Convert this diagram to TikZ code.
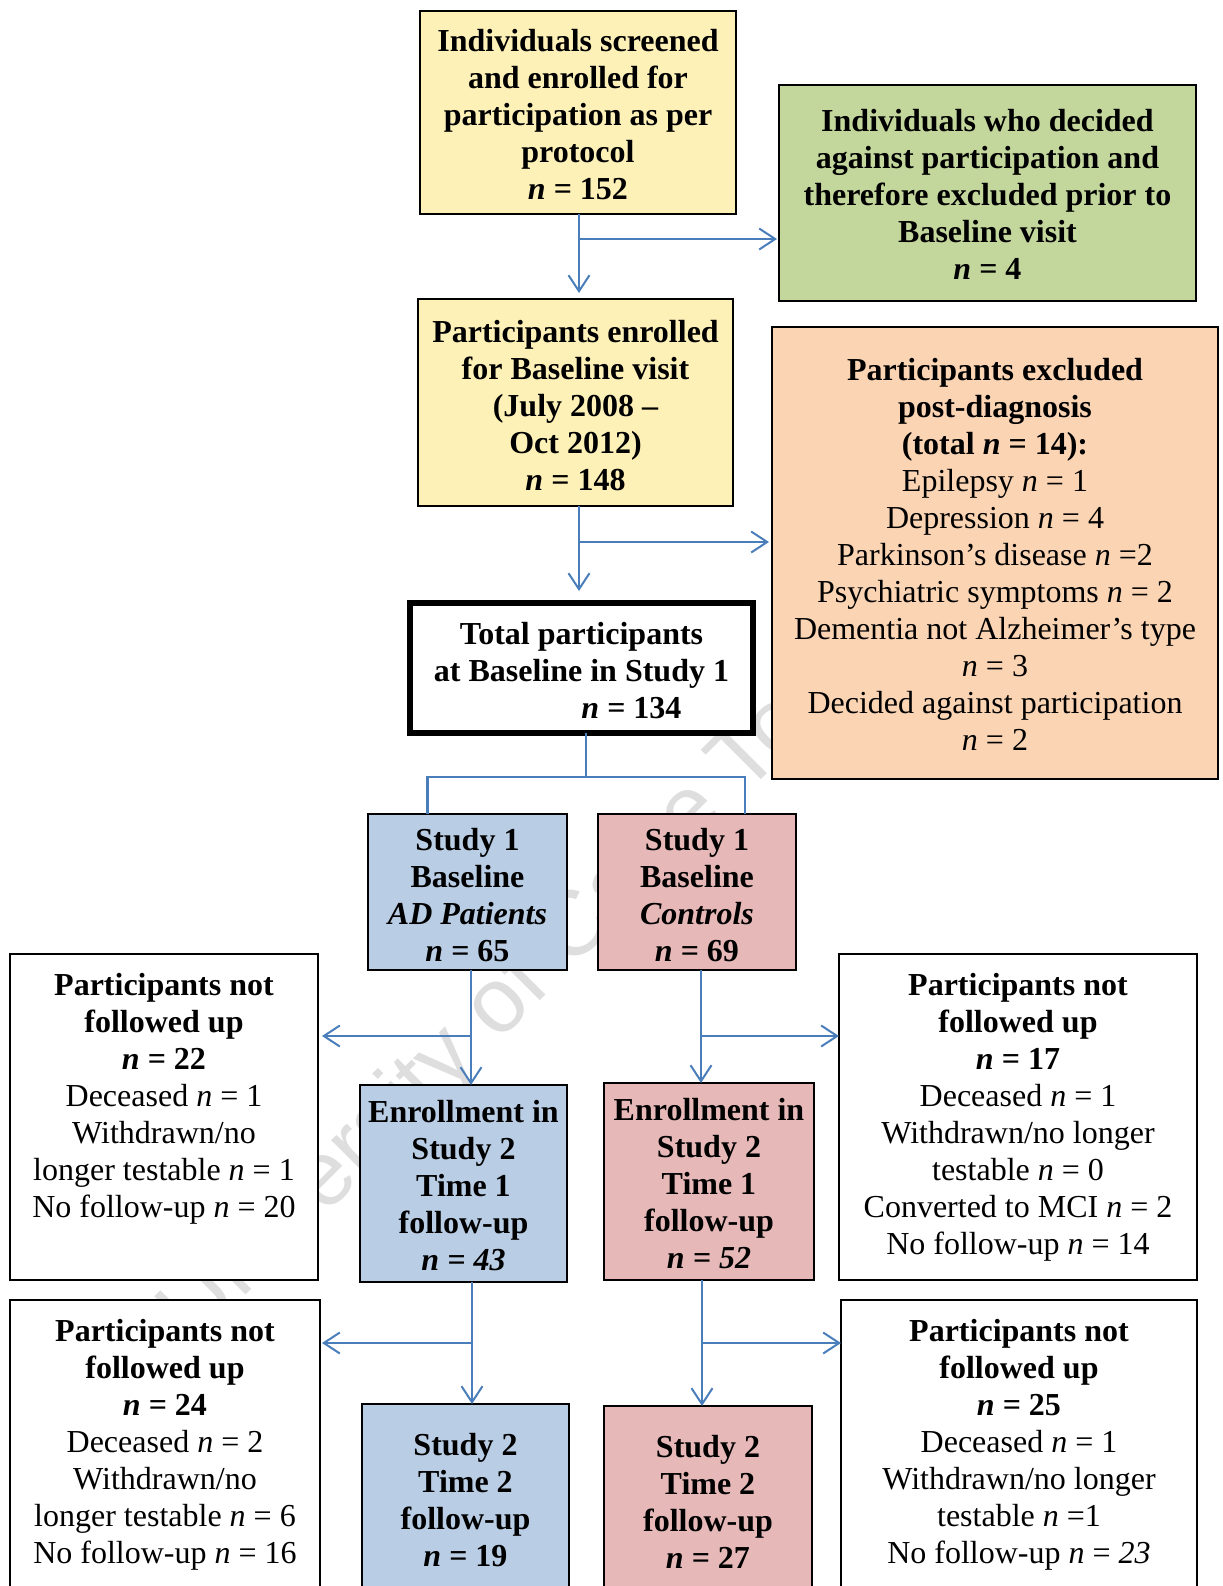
\documentclass[tikz,border=0pt]{standalone}
\usepackage{fontspec}
\setmainfont{Liberation Serif}
\newfontfamily\markfont{Liberation Sans}
\usepackage{tikz}
\usetikzlibrary{arrows.meta,positioning,calc,fit}
\definecolor{paleyellow}{HTML}{FDF1B8}
\definecolor{palegreen}{HTML}{C3D69B}
\definecolor{paleorange}{HTML}{FBD4B4}
\definecolor{paleblue}{HTML}{B9CDE5}
\definecolor{palered}{HTML}{E6B9B8}
\definecolor{linkblue}{HTML}{4A7EBB}
\newcommand\nv{\textit{n}}
\tikzset{
    stagebox/.style={draw=black,line width=0.9pt,fill=white,inner sep=0pt,outer sep=0pt},
    keybox/.style={stagebox,line width=2.8pt},
    boxtext/.style={inner sep=0pt,align=center,anchor=north,
      font={\fontsize{16pt}{18.5pt}\selectfont}},
    boldtext/.style={boxtext,font={\fontsize{16pt}{18.5pt}\selectfont\bfseries}},
    flowarrow/.style={-{Straight Barb[length=8pt,width=10.5pt]},draw=linkblue,
      line width=1pt},
    splitline/.style={draw=linkblue,line width=1.3pt}
}

\begin{document}
\begin{tikzpicture}[x=0.5pt,y=-0.5pt]
  \useasboundingbox (0,0) rectangle (1222,1586);
  \clip (0,0) rectangle (1222,1586);
  % watermark
  \node[rotate=45,anchor=base west,text=black!13,
    font={\markfont\fontsize{46pt}{46pt}\selectfont}] (mark) at (190,1351) {University of Cape Town};
  % boxes
  \node[stagebox,fill=paleyellow,fit={(420,11) (736,214)}] (screen) {};
  \node[stagebox,fill=palegreen,fit={(779,85) (1196,301)}] (decl) {};
  \node[stagebox,fill=paleyellow,fit={(418,299) (733,506)}] (enrol) {};
  \node[stagebox,fill=paleorange,fit={(772,327) (1218,779)}] (excl) {};
  \node[keybox,fit={(410,603) (753,733)}] (total) {};
  \node[stagebox,fill=paleblue,fit={(368,814) (567,970)}] (ad) {};
  \node[stagebox,fill=palered,fit={(598,814) (796,970)}] (ctl) {};
  \node[stagebox,fill=paleblue,fit={(360,1085) (567,1282)}] (ena) {};
  \node[stagebox,fill=palered,fit={(604,1083) (814,1280)}] (enb) {};
  \node[stagebox,fill=paleblue,fit={(362,1404) (569,1600)}] (ta) {};
  \node[stagebox,fill=palered,fit={(604,1406) (812,1600)}] (tb) {};
  \node[stagebox,fit={(10,954) (318,1280)}] (nfa) {};
  \node[stagebox,fit={(839,954) (1197,1280)}] (nfb) {};
  \node[stagebox,fit={(10,1300) (320,1600)}] (nfc) {};
  \node[stagebox,fit={(841,1300) (1197,1600)}] (nfd) {};
  % texts
  \node[boldtext] (screenT) at ([yshift=-9.15pt]screen.north)
    {Individuals screened\\and enrolled for\\participation as per\\protocol\\\nv{} = 152};
  \node[boldtext] (declT) at ([yshift=-12.1pt]decl.north)
    {Individuals who decided\\against participation and\\therefore excluded prior to\\Baseline visit\\\nv{} = 4};
  \node[boldtext] (enrolT) at ([yshift=-10.3pt]enrol.north)
    {Participants enrolled\\for Baseline visit\\(July 2008 –\\Oct 2012)\\\nv{} = 148};
  \node[boxtext] (exclT) at ([yshift=-15.5pt]excl.north)
    {\textbf{Participants excluded}\\\textbf{post-diagnosis}\\\textbf{(total \nv{} = 14):}\\Epilepsy \nv{} = 1\\Depression \nv{} = 4\\Parkinson’s disease \nv{} =2\\Psychiatric symptoms \nv{} = 2\\Dementia not Alzheimer’s type\\\nv{} = 3\\Decided against participation\\\nv{} = 2};
  \node[boldtext] (totalT) at ([yshift=-9.55pt]total.north)
    {Total participants\\at Baseline in Study 1\\\hspace*{50pt}\nv{} = 134};
  \node[boldtext] (adT) at ([yshift=-6.7pt]ad.north)
    {Study 1\\Baseline\\\textit{AD Patients}\\\nv{} = 65};
  \node[boldtext] (ctlT) at ([yshift=-6.7pt]ctl.north)
    {Study 1\\Baseline\\\textit{Controls}\\\nv{} = 69};
  \node[boldtext] (enaT) at ([yshift=-7.25pt]ena.north)
    {Enrollment in\\Study 2\\Time 1\\follow-up\\\textit{n = 43}};
  \node[boldtext] (enbT) at ([yshift=-7.25pt]enb.north)
    {Enrollment in\\Study 2\\Time 1\\follow-up\\\textit{n = 52}};
  \node[boldtext] (taT) at ([yshift=-14.6pt]ta.north) {Study 2\\Time 2\\follow-up\\\nv{} = 19};
  \node[boldtext] (tbT) at ([yshift=-14.6pt]tb.north) {Study 2\\Time 2\\follow-up\\\nv{} = 27};
  \node[boxtext] (nfaT) at ([yshift=-9.6pt]nfa.north)
    {\textbf{Participants not}\\\textbf{followed up}\\\textbf{\nv{} = 22}\\Deceased \nv{} = 1\\Withdrawn/no\\longer testable \nv{} = 1\\No follow-up \nv{} = 20};
  \node[boxtext] (nfbT) at ([yshift=-9.6pt]nfb.north)
    {\textbf{Participants not}\\\textbf{followed up}\\\textbf{\nv{} = 17}\\Deceased \nv{} = 1\\Withdrawn/no longer\\testable \nv{} = 0\\Converted to MCI \nv{} = 2\\No follow-up \nv{} = 14};
  \node[boxtext] (nfcT) at ([yshift=-9.6pt]nfc.north)
    {\textbf{Participants not}\\\textbf{followed up}\\\textbf{\nv{} = 24}\\Deceased \nv{} = 2\\Withdrawn/no\\longer testable \nv{} = 6\\No follow-up \nv{} = 16};
  \node[boxtext] (nfdT) at ([yshift=-9.6pt]nfd.north)
    {\textbf{Participants not}\\\textbf{followed up}\\\textbf{\nv{} = 25}\\Deceased \nv{} = 1\\Withdrawn/no longer\\testable \nv{} =1\\No follow-up \nv{} = \textit{23}};
  % connectors
  \coordinate (s1) at ([xshift=0.5pt]screen.south);
  \coordinate (s2) at ([xshift=1.75pt]enrol.south);
  \coordinate (s3) at ([xshift=2.25pt]total.south);
  \coordinate (s4) at ([xshift=1.75pt]ad.south);
  \coordinate (s5) at ([xshift=2pt]ctl.south);
  \coordinate (s6) at ([xshift=4.25pt]ena.south);
  \coordinate (s7) at ([xshift=-3.5pt]enb.south);
  \coordinate (j1) at ([yshift=-12.5pt]s1);
  \coordinate (j2) at ([yshift=-18pt]s2);
  \coordinate (split) at ([yshift=-22pt]s3);
  \coordinate (j3) at ([yshift=-33pt]s4);
  \coordinate (j4) at ([yshift=-33pt]s5);
  \coordinate (j5) at ([yshift=-30.5pt]s6);
  \coordinate (j6) at ([yshift=-31.5pt]s7);
  \draw[flowarrow] (s1) -- ([yshift=3pt]s1 |- enrol.north);
  \draw[flowarrow] (j1) -- ([xshift=-1pt]j1 -| decl.west);
  \draw[flowarrow] (s2) -- ([yshift=6pt]s2 |- total.north);
  \draw[flowarrow] (j2) -- ([xshift=-1.5pt]j2 -| excl.west);
  \draw[splitline] (s3) -- (split);
  \draw[splitline] ([xshift=-20pt]ad.north) |- (split) -| ([xshift=24pt]ctl.north);
  \draw[flowarrow] (s4) -- (s4 |- ena.north);
  \draw[flowarrow] (j3) -- ([xshift=2pt]j3 -| nfa.east);
  \draw[flowarrow] (s5) -- (s5 |- enb.north);
  \draw[flowarrow] (j4) -- (j4 -| nfb.west);
  \draw[flowarrow] (s6) -- (s6 |- ta.north);
  \draw[flowarrow] (j5) -- ([xshift=1pt]j5 -| nfc.east);
  \draw[flowarrow] (s7) -- (s7 |- tb.north);
  \draw[flowarrow] (j6) -- (j6 -| nfd.west);
\end{tikzpicture}
\end{document}
